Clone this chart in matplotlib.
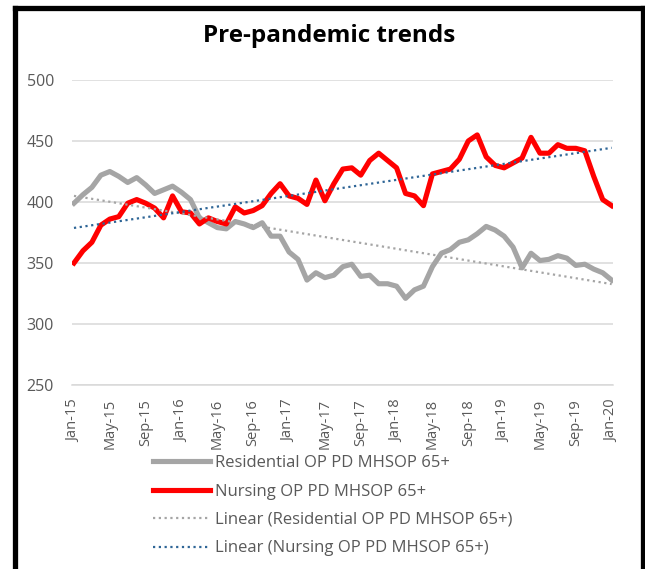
import numpy as np
import matplotlib
matplotlib.use("Agg")
import matplotlib.pyplot as plt
from matplotlib.lines import Line2D

plt.rcParams['font.family'] = ['Open Sans', 'DejaVu Sans']

# monthly values, Jan-15 .. Jan-20
residential = [399, 406, 412, 422, 425, 421, 416, 420, 414, 407,
               410, 413, 408, 402, 387, 383, 379, 378, 384, 382,
               379, 383, 372, 372, 359, 353, 336, 342, 338, 340,
               347, 349, 339, 340, 333, 333, 331, 321, 328, 331,
               347, 358, 361, 367, 369, 374, 380, 377, 372, 363,
               346, 358, 352, 353, 356, 354, 348, 349, 345, 342,
               336]
nursing = [350, 360, 367, 381, 386, 388, 399, 402, 399, 395,
           387, 405, 392, 391, 382, 387, 384, 382, 396, 391,
           393, 397, 407, 415, 405, 403, 398, 418, 401, 415,
           427, 428, 422, 434, 440, 434, 428, 407, 405, 397,
           423, 425, 427, 435, 450, 455, 437, 430, 428, 432,
           436, 453, 440, 440, 447, 444, 444, 442, 421, 402,
           397]
tick_labels = ['Jan-15', 'May-15', 'Sep-15', 'Jan-16', 'May-16', 'Sep-16',
               'Jan-17', 'May-17', 'Sep-17', 'Jan-18', 'May-18', 'Sep-18',
               'Jan-19', 'May-19', 'Sep-19', 'Jan-20']
names = ['Residential OP PD MHSOP 65+', 'Nursing OP PD MHSOP 65+']

x = np.arange(len(residential))
res_fit = np.polyval(np.polyfit(x, residential, 1), x)
nur_fit = np.polyval(np.polyfit(x, nursing, 1), x)

fig = plt.figure(figsize=(6.45, 5.69), dpi=100)
ax = fig.add_axes([72/645, 1 - 385/569, 541/645, 305/569])

label_grey = '#595959'
ax.set_ylim(250, 500)
ax.set_xlim(-0.22, 60.15)
ax.set_yticks(range(250, 501, 50))
ax.set_xticks(x[::4])
ax.set_xticklabels(tick_labels, rotation=90)
ax.tick_params(axis='y', length=0, pad=13, labelsize=11.5, labelcolor=label_grey)
ax.tick_params(axis='x', length=0, pad=10, labelsize=10.5, labelcolor=label_grey)
ax.grid(axis='y', color='#D9D9D9', linewidth=1.1)
ax.set_axisbelow(True)
for s in ['top', 'right', 'left']:
    ax.spines[s].set_visible(False)
ax.spines['bottom'].set_color('#D9D9D9')
ax.spines['bottom'].set_linewidth(1.1)

ax.plot(x, residential, color='#A5A5A5', lw=3.7, solid_joinstyle='round')
ax.plot(x, nursing, color='#FF0000', lw=3.7, solid_joinstyle='round')
ax.plot(x, res_fit, color='#A5A5A5', lw=1.6, dashes=(1, 1.6))
ax.plot(x, nur_fit, color='#2E6596', lw=1.6, dashes=(1, 1.6))

fig.text(0.511, 1 - 36/569, 'Pre-pandemic trends', ha='center', va='center',
         fontsize=17.5, fontweight='bold')

handles = [Line2D([], [], color='#A5A5A5', lw=3.7),
           Line2D([], [], color='#FF0000', lw=3.7),
           Line2D([], [], color='#A5A5A5', lw=1.6, dashes=(1, 1.6)),
           Line2D([], [], color='#2E6596', lw=1.6, dashes=(1, 1.6))]
labels = names + ['Linear (' + n + ')' for n in names]
leg = fig.legend(handles, labels, loc='upper left', frameon=False,
                 bbox_to_anchor=(153/645, 1 - 455/569), borderpad=0,
                 borderaxespad=0, handlelength=3.4, handletextpad=0.3,
                 labelspacing=0.75, fontsize=12)
for t in leg.get_texts():
    t.set_color(label_grey)

# black frame round the chart
k = dict(color='black', lw=3.8, transform=fig.transFigure, solid_capstyle='projecting')
fig.add_artist(Line2D([14.5/645, 14.5/645], [0, 1 - 7.5/569], **k))
fig.add_artist(Line2D([14.5/645, 642.5/645], [1 - 7.5/569, 1 - 7.5/569], **k))
fig.add_artist(Line2D([642.5/645, 642.5/645], [0, 1 - 7.5/569], **k))

fig.savefig('out.png', dpi=100)
